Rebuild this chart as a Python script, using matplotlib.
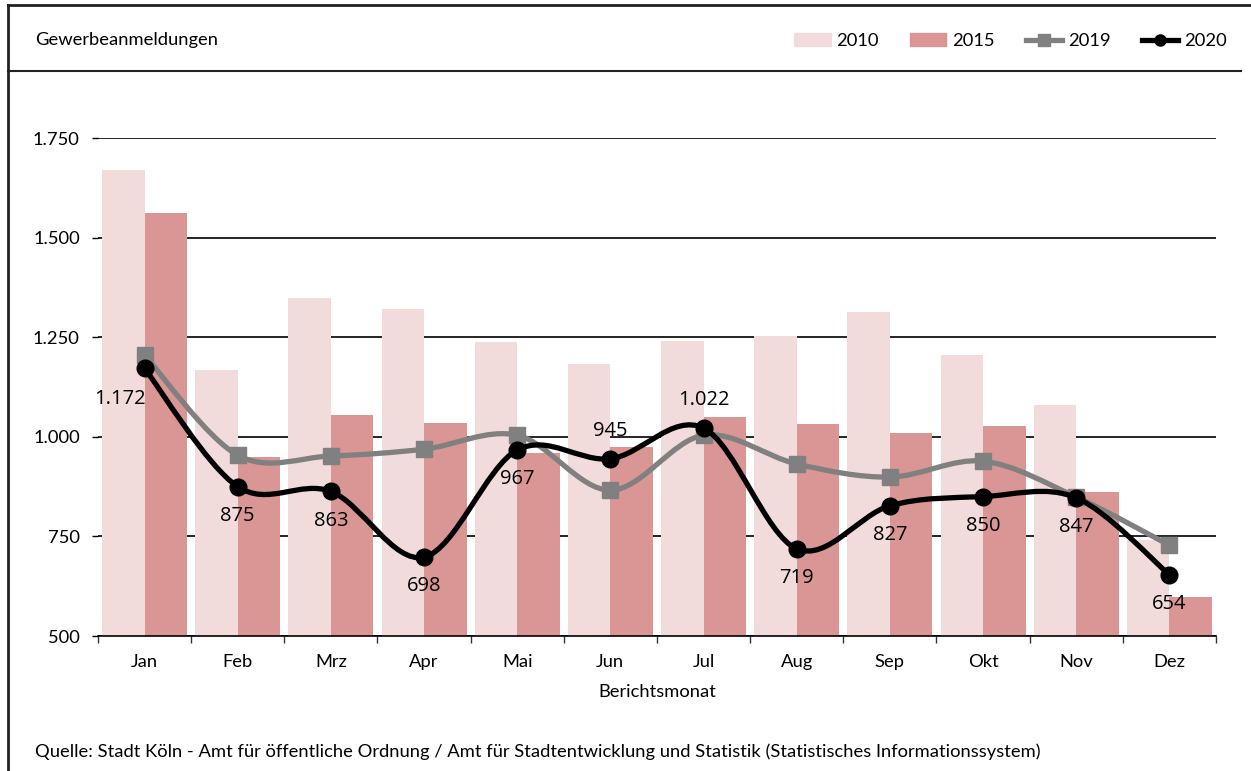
import matplotlib
matplotlib.use("Agg")
import numpy as np
import matplotlib.pyplot as plt
from matplotlib.path import Path
from matplotlib.patches import PathPatch, Patch
from matplotlib.lines import Line2D

plt.rcParams["font.family"] = ["Lato", "DejaVu Sans"]

months = ["Jan", "Feb", "Mrz", "Apr", "Mai", "Jun", "Jul", "Aug", "Sep", "Okt", "Nov", "Dez"]
v2010 = [1670, 1168, 1348, 1321, 1238, 1183, 1240, 1253, 1313, 1205, 1080, 741]
v2015 = [1562, 950, 1055, 1035, 959, 975, 1050, 1032, 1010, 1027, 861, 598]
v2019 = [1205, 954, 952, 969, 1004, 866, 1004, 932, 899, 939, 849, 728]
v2020 = [1172, 875, 863, 698, 967, 945, 1022, 719, 827, 850, 847, 654]


def fmt(v):
    return f"{v:,}".replace(",", ".")


def smooth_path(xs, ys):
    # Catmull-Rom style bezier, similar to Excel's smoothed line
    pts = np.column_stack([xs, ys]).astype(float)
    n = len(pts)
    verts = [pts[0]]
    codes = [Path.MOVETO]
    for i in range(n - 1):
        p0 = pts[i - 1] if i > 0 else pts[i]
        p1 = pts[i]
        p2 = pts[i + 1]
        p3 = pts[i + 2] if i + 2 < n else pts[i + 1]
        c1 = p1 + (p2 - p0) / 6.0
        c2 = p2 - (p3 - p1) / 6.0
        verts += [c1, c2, p2]
        codes += [Path.CURVE4] * 3
    return Path(verts, codes)


fig = plt.figure(figsize=(12.51, 7.71), dpi=100)
ax = fig.add_axes([0.0783, 0.175, 0.8937, 0.646])

x = np.arange(len(months))
w = 0.456
ax.bar(x - w / 2, v2010, width=w, color="#F2DCDB", zorder=2)
ax.bar(x + w / 2, v2015, width=w, color="#DA9694", zorder=2)

ax.add_patch(PathPatch(smooth_path(x, v2019), fill=False, edgecolor="#808080", lw=3.8,
                       capstyle="round", joinstyle="round", zorder=3))
ax.plot(x, v2019, ls="none", marker="s", ms=11, color="#808080", zorder=4)
ax.add_patch(PathPatch(smooth_path(x, v2020), fill=False, edgecolor="black", lw=3.8,
                       capstyle="round", joinstyle="round", zorder=5))
ax.plot(x, v2020, ls="none", marker="o", ms=12, color="black", zorder=6)

# data labels for 2020
for i, v in enumerate(v2020):
    if i == 0:
        off, ha = (1, -22), "right"
    elif i in (5, 6):
        off, ha = (0, 20), "center"
    else:
        off, ha = (0, -21), "center"
    ax.annotate(fmt(v), (x[i], v), xytext=off, textcoords="offset points",
                ha=ha, va="center", fontsize=14.5, family="Open Sans", zorder=7)

ax.set_xlim(-0.5, 11.5)
ax.set_ylim(500, 1750)
yt = [500, 750, 1000, 1250, 1500, 1750]
ax.set_yticks(yt)
ax.set_yticklabels([fmt(t) for t in yt])
ax.yaxis.grid(True, color="black", lw=1.2, zorder=1)
ax.set_axisbelow(True)
ax.set_xticks(x)
ax.set_xticklabels(months)
ax.set_xticks(np.arange(-0.5, 12, 1), minor=True)
ax.tick_params(axis="x", which="major", length=0, pad=13, labelsize=13.2)
ax.tick_params(axis="x", which="minor", length=5, width=1, color="#333333")
ax.tick_params(axis="y", length=4, width=1, pad=9, labelsize=13.2)
for s in ["top", "right", "left"]:
    ax.spines[s].set_visible(False)
ax.spines["bottom"].set_linewidth(1.2)
ax.set_xlabel("Berichtsmonat", fontsize=13.2, labelpad=10)

# frame and header
fig.add_artist(Line2D([8 / 1251, 1], [1 - 5 / 771, 1 - 5 / 771], color="#222222", lw=2))
fig.add_artist(Line2D([8 / 1251, 8 / 1251], [0, 1 - 5 / 771], color="#222222", lw=2))
fig.add_artist(Line2D([8 / 1251, 1241 / 1251], [1 - 71 / 771, 1 - 71 / 771], color="#222222", lw=1.5))
fig.text(35 / 1251, 1 - 40 / 771, "Gewerbeanmeldungen", fontsize=13.2, va="center", ha="left")
fig.text(35 / 1251, 1 - 752 / 771,
         "Quelle: Stadt Köln - Amt für öffentliche Ordnung / Amt für Stadtentwicklung und Statistik (Statistisches Informationssystem)",
         fontsize=13.2, va="center", ha="left")

handles = [Patch(color="#F2DCDB"), Patch(color="#DA9694"),
           Line2D([], [], color="#808080", lw=3.8, marker="s", ms=8),
           Line2D([], [], color="black", lw=3.8, marker="o", ms=8)]
fig.legend(handles, ["2010", "2015", "2019", "2020"], ncol=4, frameon=False,
           loc="center right", bbox_to_anchor=(1243 / 1251, 1 - 41 / 771),
           fontsize=13.2, handlelength=2.0, handleheight=0.75, handletextpad=0.3,
           columnspacing=1.7)

fig.savefig("out.png", dpi=100)
